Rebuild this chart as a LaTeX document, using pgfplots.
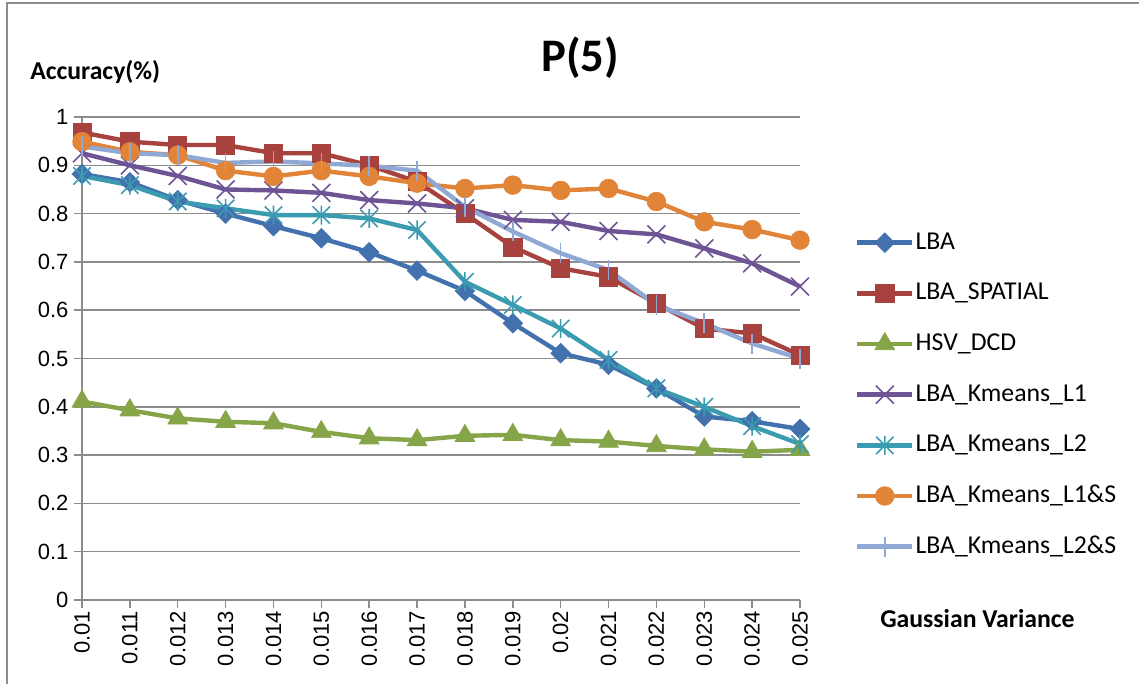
\documentclass[border=0pt]{standalone}
\usepackage{pgfplots}
\pgfplotsset{compat=1.18}
\usepackage{fontspec}
\setmainfont{Carlito}
\newfontfamily\arialf{Liberation Sans}
\definecolor{cLBA}{HTML}{4271AE}
\definecolor{cSP}{HTML}{A8423F}
\definecolor{cHSV}{HTML}{86A548}
\definecolor{cL1}{HTML}{6E5494}
\definecolor{cL2}{HTML}{3A9BB1}
\definecolor{cL1S}{HTML}{E18438}
\definecolor{cL2S}{HTML}{8FA8D4}
\definecolor{gridc}{HTML}{8C8C8C}
\pgfdeclareplotmark{xbar}{%
  \pgfpathmoveto{\pgfqpoint{-\pgfplotmarksize}{-\pgfplotmarksize}}%
  \pgfpathlineto{\pgfqpoint{\pgfplotmarksize}{\pgfplotmarksize}}%
  \pgfpathmoveto{\pgfqpoint{-\pgfplotmarksize}{\pgfplotmarksize}}%
  \pgfpathlineto{\pgfqpoint{\pgfplotmarksize}{-\pgfplotmarksize}}%
  \pgfpathmoveto{\pgfqpoint{0pt}{-1.1\pgfplotmarksize}}%
  \pgfpathlineto{\pgfqpoint{0pt}{1.1\pgfplotmarksize}}%
  \pgfusepathqstroke}
\begin{document}
\begin{tikzpicture}
\path[use as bounding box] (0,0) rectangle (854.25pt,-512.25pt);
\draw[color=gridc, line width=1.2pt] (5.25pt,-520pt) -- (5.25pt,-2.25pt) -- (860pt,-2.25pt);
\begin{axis}[
  at={(61.5pt,-450pt)}, anchor=south west,
  scale only axis, width=538.5pt, height=362.25pt,
  xmin=0, xmax=15, ymin=0, ymax=1,
  clip=false,
  axis x line*=bottom, axis y line*=left,
  axis line style={-, color=gridc, line width=1.1pt},
  ytick={0,0.1,...,1.01},
  yticklabels={0,0.1,0.2,0.3,0.4,0.5,0.6,0.7,0.8,0.9,1},
  xtick={0,...,15},
  xticklabels={0.01,0.011,0.012,0.013,0.014,0.015,0.016,0.017,0.018,0.019,0.02,0.021,0.022,0.023,0.024,0.025},
  tick align=outside, major tick length=6pt,
  tick style={color=gridc, line width=1.1pt},
  ymajorgrids, grid style={color=gridc, line width=1.1pt},
  ticklabel style={font=\arialf\fontsize{16.5}{18}\selectfont, text=black},
  xticklabel style={rotate=90, anchor=east, inner sep=2pt},
  yticklabel style={inner sep=4pt},
  legend cell align=left,
  legend style={draw=none, fill=none, inner sep=0pt, at={(rel axis cs:1.0766,0.768)}, anchor=north west,
    font=\fontsize{19.3}{22}\selectfont, row sep=18pt,
    nodes={inner sep=1pt, text height=14pt, text depth=4pt}},
  legend image code/.code={\draw[mark repeat=2,mark phase=2,#1] plot coordinates {(0pt,0pt) (20.5pt,0pt) (41pt,0pt)};},
  every axis plot/.append style={line width=3.3pt},
]
\addplot[color=cLBA, mark=square*, mark size=5.2pt, mark options={fill=cLBA, line width=0.5pt, rotate=45}] coordinates {
(0,0.882)(1,0.865)(2,0.828)(3,0.800)(4,0.774)(5,0.749)(6,0.720)(7,0.682)(8,0.640)(9,0.573)(10,0.511)(11,0.487)(12,0.438)(13,0.380)(14,0.370)(15,0.354)};
\addlegendentry{LBA}
\addplot[color=cSP, mark=square*, mark size=6.8pt, mark options={fill=cSP, line width=0.5pt}] coordinates {
(0,0.968)(1,0.949)(2,0.942)(3,0.942)(4,0.925)(5,0.925)(6,0.900)(7,0.866)(8,0.800)(9,0.731)(10,0.687)(11,0.669)(12,0.614)(13,0.562)(14,0.552)(15,0.507)};
\addlegendentry{LBA\_SPATIAL}
\addplot[color=cHSV, mark=triangle*, mark size=8.6pt, mark options={fill=cHSV, line width=0.5pt}] coordinates {
(0,0.411)(1,0.393)(2,0.376)(3,0.369)(4,0.366)(5,0.348)(6,0.335)(7,0.331)(8,0.340)(9,0.342)(10,0.331)(11,0.328)(12,0.319)(13,0.312)(14,0.307)(15,0.311)};
\addlegendentry{HSV\_DCD}
\addplot[color=cL1, mark=x, mark size=9.5pt, mark options={line width=1.2pt}] coordinates {
(0,0.925)(1,0.900)(2,0.878)(3,0.850)(4,0.848)(5,0.843)(6,0.828)(7,0.821)(8,0.811)(9,0.787)(10,0.783)(11,0.764)(12,0.757)(13,0.728)(14,0.697)(15,0.649)};
\addlegendentry{LBA\_Kmeans\_L1}
\addplot[color=cL2, mark=xbar, mark size=6.5pt, mark options={line width=1.2pt}] coordinates {
(0,0.878)(1,0.859)(2,0.825)(3,0.811)(4,0.797)(5,0.797)(6,0.790)(7,0.766)(8,0.659)(9,0.611)(10,0.562)(11,0.497)(12,0.438)(13,0.400)(14,0.360)(15,0.323)};
\addlegendentry{LBA\_Kmeans\_L2}
\addplot[color=cL1S, mark=*, mark size=7pt, mark options={fill=cL1S, line width=0.5pt}] coordinates {
(0,0.949)(1,0.928)(2,0.921)(3,0.889)(4,0.877)(5,0.889)(6,0.877)(7,0.863)(8,0.852)(9,0.859)(10,0.848)(11,0.852)(12,0.825)(13,0.783)(14,0.767)(15,0.745)};
\addlegendentry{LBA\_Kmeans\_L1\&S}
\addplot[color=cL2S, mark=|, mark size=7.5pt, mark options={line width=1.2pt}] coordinates {
(0,0.939)(1,0.925)(2,0.921)(3,0.905)(4,0.908)(5,0.904)(6,0.899)(7,0.889)(8,0.814)(9,0.763)(10,0.718)(11,0.683)(12,0.611)(13,0.573)(14,0.531)(15,0.500)};
\addlegendentry{LBA\_Kmeans\_L2\&S}
\end{axis}
\node[anchor=base, font=\bfseries\fontsize{35}{40}\selectfont, inner sep=0pt] at (435pt,-53.25pt) {P(5)};
\node[anchor=base west, font=\bfseries\fontsize{19.3}{22}\selectfont, inner sep=0pt] at (22.5pt,-59.5pt) {Accuracy(\%)};
\node[anchor=base west, font=\bfseries\fontsize{19.3}{22}\selectfont, inner sep=0pt] at (660pt,-470.25pt) {Gaussian Variance};
\end{tikzpicture}
\end{document}
